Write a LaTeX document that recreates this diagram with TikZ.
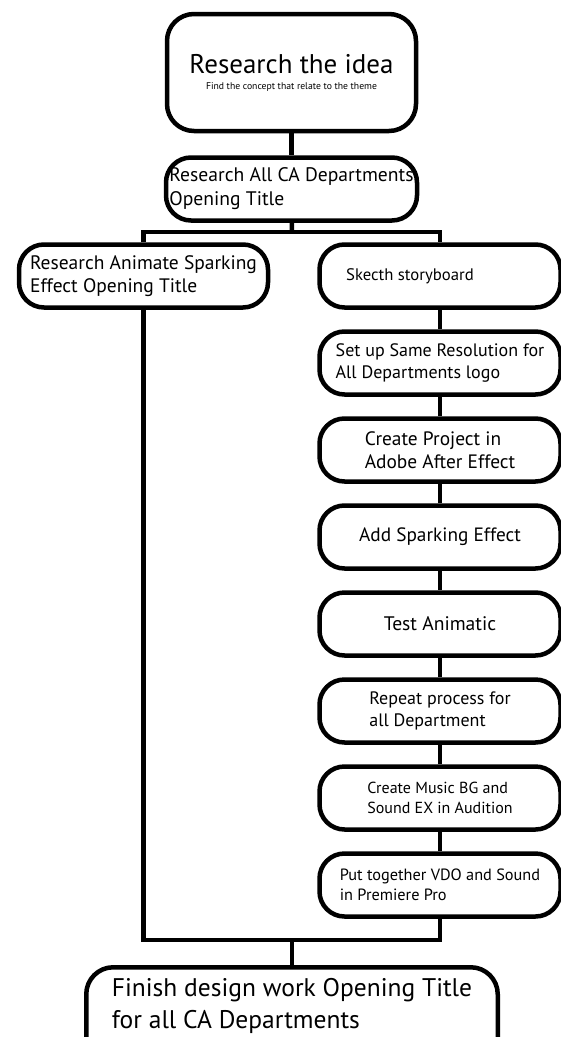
\documentclass[tikz,border=0pt]{standalone}
\usepackage{fontspec}
\setmainfont{PT Sans}
\usepackage{tikz}
\usetikzlibrary{positioning, calc}

\begin{document}
\begin{tikzpicture}[
    x=1pt, y=-1pt,
    node distance=19.5pt,
    stage/.style={draw=black, rounded corners=25pt, line width=4.5pt,
                  minimum width=#1, minimum height=63pt, align=left,
                  inner sep=2pt, font=\fontsize{18}{22}\selectfont},
    stage/.default=241pt,
    link/.style={draw=black, line width=4.5pt}
]
    \useasboundingbox (0,0) rectangle (561,1037);
    \clip (0,0) rectangle (561,1037);
    \fill[white] (0,0) rectangle (561,1037);

    % top of the tree
    \node[stage=249pt, minimum height=117pt, rounded corners=27pt, align=center]
        (idea) at (291.5,72.5)
        {{\fontsize{27}{29}\selectfont Research the idea}\\[-6pt]
         {\fontsize{9.7}{11}\selectfont Find the concept that relate to the theme}};
    \node[stage=251pt, below=22pt of idea, font=\fontsize{19.6}{24}\selectfont] (allca)
        {Research All CA Departments\\Opening Title};

    % two branches
    \node[stage=249pt, font=\fontsize{19.5}{23}\selectfont] (anim) at (143.5,276)
        {Research Animate Sparking\\Effect Opening Title};
    \node[stage, font=\fontsize{16.7}{20}\selectfont] (sketch) at (440,276)
        {Skecth storyboard\hspace{60pt}};

    % right column
    \node[stage, below=of sketch] (reso) {Set up Same Resolution for\\All Departments logo};
    \node[stage, below=of reso, font=\fontsize{19.4}{23}\selectfont] (proj)
        {Create Project in\\Adobe After Effect};
    \node[stage, below=of proj, font=\fontsize{19.3}{23}\selectfont] (spark) {Add Sparking Effect};
    \node[stage, below=of spark, font=\fontsize{19.6}{23}\selectfont] (test) {Test Animatic};
    \node[stage, below=of test] (repeat) {Repeat process for\\all Department};
    \node[stage, below=of repeat, font=\fontsize{16}{20}\selectfont] (music)
        {Create Music BG and\\Sound EX in Audition};
    \node[stage, below=of music, font=\fontsize{16.3}{20}\selectfont] (premiere)
        {Put together VDO and Sound\\in Premiere Pro};

    % end of the tree
    \node[stage=411.5pt, anchor=north, minimum height=0pt, inner ysep=11pt,
          rounded corners=27pt, text depth=40pt,
          font=\fontsize{25.5}{32}\selectfont] (finish) at (292,965)
        {Finish design work Opening Title\\for all CA Departments};

    \coordinate (topbar) at (292,232);
    \coordinate (botbar) at (292,940);

    \draw[link] (idea) -- (allca);
    \draw[link] (allca) -- (topbar);
    \draw[link] (anim.north) |- (topbar) -| (sketch.north);
    \draw[link] (sketch) -- (reso);
    \draw[link] (reso) -- (proj);
    \draw[link] (proj) -- (spark);
    \draw[link] (spark) -- (test);
    \draw[link] (test) -- (repeat);
    \draw[link] (repeat) -- (music);
    \draw[link] (music) -- (premiere);
    \draw[link] (anim.south) |- (botbar) -| (premiere.south);
    \draw[link] (botbar) -- (finish);
\end{tikzpicture}
\end{document}
